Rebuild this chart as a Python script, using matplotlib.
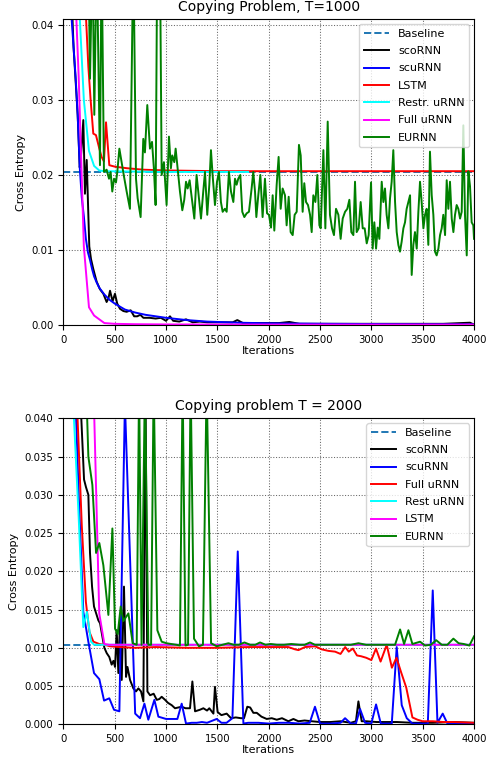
import matplotlib
matplotlib.use("Agg")
import matplotlib.pyplot as plt
from matplotlib.ticker import FormatStrFormatter

# ---------------- Top panel: Copying Problem, T=1000 ----------------
t1_baseline = 0.0204

t1_sco_x = [0, 50, 100, 140, 160, 172, 195, 211, 228, 253,
            270, 292, 325, 357, 390, 422, 440, 455, 480, 503,
            525, 552, 585, 617, 656, 690, 720, 750, 780, 840,
            900, 950, 1000, 1039, 1070, 1130, 1195, 1260, 1330, 1400,
            1470, 1560, 1650, 1695, 1750, 1900, 2100, 2201, 2300, 2600,
            3000, 3300, 3700, 3961, 4000]
t1_sco_y = [0.08, 0.055, 0.037, 0.028, 0.021, 0.0224, 0.0273, 0.0175, 0.022, 0.0105,
            0.0088, 0.0075, 0.0058, 0.0048, 0.0042, 0.0031, 0.0036, 0.0046, 0.0032, 0.0042,
            0.0029, 0.0022, 0.0019, 0.0018, 0.002, 0.0012, 0.0012, 0.0014, 0.001, 0.001,
            0.0009, 0.001, 0.0006, 0.0012, 0.0006, 0.0005, 0.0008, 0.0004, 0.0005, 0.0004,
            0.0004, 0.0004, 0.0004, 0.0007, 0.0003, 0.0003, 0.0003, 0.00045, 0.0002, 0.0002,
            0.0002, 0.0002, 0.0002, 0.00035, 0.0001]

t1_scu_x = [0, 50, 80, 100, 120, 140, 160, 180, 200, 220,
            240, 260, 280, 300, 325, 350, 400, 450, 500, 550,
            600, 700, 800, 900, 1000, 1200, 1400, 1700, 2000, 2600,
            3200, 4000]
t1_scu_y = [0.08, 0.055, 0.041, 0.037, 0.033, 0.028, 0.021, 0.017, 0.0145, 0.0115,
            0.0097, 0.0087, 0.0075, 0.0065, 0.0057, 0.005, 0.0041, 0.0034, 0.0029, 0.0025,
            0.0021, 0.0017, 0.0014, 0.0012, 0.001, 0.0007, 0.0005, 0.00035, 0.00027, 0.0002,
            0.00016, 0.00013]

t1_lstm_x = [0, 200, 221, 244, 266, 292, 318, 351, 373, 396,
             416, 448, 503, 617, 779, 1000, 1500, 2000, 4000]
t1_lstm_y = [0.1, 0.06, 0.041, 0.0344, 0.030, 0.0255, 0.0253, 0.0235, 0.0224, 0.0218,
             0.027, 0.0213, 0.0211, 0.0209, 0.0207, 0.0206, 0.0205, 0.0205, 0.0205]

t1_restr_x = [0, 160, 200, 250, 300, 350, 400, 1000, 1800]
t1_restr_y = [0.1, 0.041, 0.030, 0.0232, 0.0212, 0.0206, 0.0205, 0.0204, 0.0204]

t1_full_x = [0, 100, 150, 200, 250, 300, 350, 400, 500, 700, 1000, 2000, 4000]
t1_full_y = [0.1, 0.05, 0.033, 0.0105, 0.0024, 0.0013, 0.0008, 0.0003, 0.0002,
             0.00015, 0.00012, 0.0001, 0.0001]

t1_eu_x = [0, 200, 244, 260, 284, 302, 325, 357, 373, 396,
           422, 445, 461, 477, 494, 513, 526, 546, 570, 591,
           617, 649, 682, 708, 724, 753, 779, 795, 818, 844,
           864, 883, 899, 915, 941, 958, 980, 1006, 1029, 1048,
           1061, 1081, 1094, 1113, 1136, 1159, 1178, 1195, 1211, 1230,
           1250, 1276, 1298, 1321, 1341, 1363, 1380, 1402, 1422, 1438,
           1454, 1477, 1497, 1516, 1535, 1552, 1574, 1591, 1613, 1633,
           1656, 1672, 1688, 1704, 1724, 1743, 1763, 1786, 1808, 1834,
           1850, 1867, 1880, 1899, 1919, 1941, 1964, 1984, 2003, 2023,
           2039, 2055, 2078, 2097, 2117, 2136, 2159, 2175, 2195, 2214,
           2234, 2253, 2273, 2295, 2312, 2331, 2347, 2364, 2383, 2403,
           2419, 2435, 2455, 2474, 2494, 2507, 2533, 2552, 2575, 2597,
           2617, 2636, 2656, 2679, 2701, 2721, 2744, 2766, 2786, 2805,
           2825, 2841, 2857, 2877, 2896, 2916, 2935, 2955, 2974, 2997,
           3013, 3029, 3046, 3062, 3078, 3101, 3117, 3133, 3149, 3166,
           3182, 3198, 3214, 3231, 3247, 3263, 3279, 3295, 3312, 3328,
           3344, 3360, 3377, 3393, 3409, 3425, 3442, 3458, 3474, 3490,
           3507, 3523, 3539, 3555, 3571, 3588, 3604, 3620, 3636, 3653,
           3669, 3685, 3701, 3718, 3734, 3750, 3766, 3783, 3799, 3815,
           3831, 3847, 3864, 3880, 3896, 3912, 3929, 3945, 3961, 3977,
           3993, 4000]
t1_eu_y = [0.1, 0.08, 0.05, 0.0328, 0.05, 0.028, 0.05, 0.0213, 0.05, 0.0204,
           0.0207, 0.0195, 0.0204, 0.0178, 0.0195, 0.019, 0.0204, 0.0235, 0.0215, 0.0198,
           0.0178, 0.0155, 0.05, 0.0195, 0.0169, 0.0144, 0.0248, 0.023, 0.0293, 0.0235,
           0.0244, 0.0207, 0.016, 0.05, 0.05, 0.02, 0.0217, 0.016, 0.0251, 0.0209,
           0.0226, 0.0217, 0.0235, 0.0209, 0.0178, 0.0153, 0.0167, 0.0191, 0.0182, 0.0193,
           0.0171, 0.0142, 0.020, 0.0169, 0.0142, 0.0178, 0.0204, 0.0147, 0.0187, 0.0233,
           0.020, 0.016, 0.0191, 0.0204, 0.0164, 0.0151, 0.0155, 0.0151, 0.0204, 0.0178,
           0.0164, 0.0195, 0.0187, 0.0195, 0.020, 0.0151, 0.0144, 0.0149, 0.0151, 0.0182,
           0.0204, 0.0178, 0.0144, 0.0173, 0.020, 0.0144, 0.0195, 0.0149, 0.0147, 0.0130,
           0.0173, 0.0126, 0.0187, 0.0224, 0.0155, 0.0182, 0.0173, 0.0133, 0.0171, 0.0124,
           0.012, 0.0147, 0.0151, 0.024, 0.0226, 0.0151, 0.0189, 0.0164, 0.016, 0.0147,
           0.0124, 0.0173, 0.0164, 0.020, 0.0133, 0.0129, 0.0233, 0.0129, 0.0271, 0.0147,
           0.0129, 0.012, 0.0155, 0.0147, 0.0115, 0.0142, 0.0151, 0.0155, 0.0167, 0.0124,
           0.012, 0.0191, 0.0124, 0.0129, 0.0164, 0.0129, 0.0129, 0.0109, 0.012, 0.019,
           0.0102, 0.0137, 0.0102, 0.0130, 0.0115, 0.0191, 0.0164, 0.0182, 0.0147, 0.0129,
           0.0169, 0.0191, 0.0233, 0.0164, 0.0124, 0.0107, 0.0098, 0.0111, 0.0129, 0.0137,
           0.0155, 0.0164, 0.0173, 0.0067, 0.0107, 0.0124, 0.0102, 0.0151, 0.0191, 0.0164,
           0.0129, 0.0147, 0.0155, 0.0107, 0.0231, 0.0173, 0.0147, 0.0098, 0.0093, 0.0102,
           0.0120, 0.0129, 0.0147, 0.0120, 0.0193, 0.0155, 0.0191, 0.0142, 0.0124, 0.0147,
           0.016, 0.0155, 0.0142, 0.0151, 0.0266, 0.0147, 0.0093, 0.0205, 0.0185, 0.0137,
           0.0133, 0.0115]

# ---------------- Bottom panel: Copying problem T = 2000 ----------------
t2_baseline = 0.0104

t2_sco_x = [0, 150, 172, 202, 221, 244, 260, 280, 299, 320,
            341, 358, 384, 400, 423, 448, 471, 488, 504, 520,
            536, 552, 569, 591, 611, 625, 650, 682, 708, 731,
            757, 780, 800, 819, 845, 880, 910, 935, 958, 991,
            1020, 1056, 1088, 1120, 1153, 1190, 1234, 1257, 1283, 1330,
            1364, 1400, 1422, 1462, 1477, 1503, 1540, 1591, 1634, 1680,
            1730, 1760, 1792, 1820, 1851, 1884, 1930, 1981, 2030, 2079,
            2130, 2192, 2241, 2290, 2350, 2420, 2500, 2600, 2700, 2800,
            2850, 2874, 2906, 2950, 3050, 3150, 3250, 3400, 3600, 3800,
            4000]
t2_sco_y = [0.1, 0.06, 0.041, 0.032, 0.031, 0.030, 0.0224, 0.018, 0.0154, 0.0145,
            0.0136, 0.0132, 0.0112, 0.0100, 0.0093, 0.0088, 0.0078, 0.0083, 0.0075, 0.0123,
            0.0067, 0.0136, 0.0058, 0.018, 0.0062, 0.0075, 0.0058, 0.0047, 0.0043, 0.0047,
            0.0043, 0.0030, 0.045, 0.0043, 0.0038, 0.0040, 0.0032, 0.0033, 0.0036, 0.0032,
            0.0028, 0.0025, 0.0021, 0.0022, 0.0023, 0.0021, 0.0021, 0.0056, 0.0017, 0.0019,
            0.0021, 0.0018, 0.0021, 0.0014, 0.0049, 0.0016, 0.0012, 0.0014, 0.0008, 0.0009,
            0.0008, 0.0008, 0.0023, 0.0022, 0.0015, 0.0015, 0.0010, 0.0007, 0.0008, 0.0006,
            0.0008, 0.0004, 0.0007, 0.0004, 0.0005, 0.0004, 0.0003, 0.0003, 0.0004, 0.0002,
            0.0004, 0.0030, 0.0004, 0.0004, 0.0003, 0.0003, 0.0003, 0.0002, 0.0002, 0.0003,
            0.0002]

t2_scu_x = [0, 100, 150, 195, 244, 299, 351, 397, 448, 494,
            546, 600, 700, 747, 790, 828, 887, 926, 1001, 1050,
            1111, 1153, 1195, 1250, 1300, 1350, 1400, 1494, 1540, 1590,
            1647, 1699, 1754, 1800, 1900, 2000, 2100, 2200, 2300, 2400,
            2451, 2500, 2600, 2700, 2744, 2800, 2850, 2890, 2939, 3000,
            3046, 3092, 3150, 3199, 3247, 3296, 3345, 3400, 3500, 3550,
            3598, 3644, 3695, 3741, 3800, 3900, 4000]
t2_scu_y = [0.1, 0.05, 0.03, 0.0147, 0.0108, 0.0067, 0.0059, 0.0031, 0.0034, 0.0019,
            0.0017, 0.042, 0.0014, 0.0008, 0.0027, 0.0006, 0.0032, 0.0010, 0.0007, 0.0007,
            0.0007, 0.0027, 0.0001, 0.0002, 0.0002, 0.0003, 0.0002, 0.0007, 0.0002, 0.0002,
            0.0008, 0.0226, 0.0001, 0.0002, 0.0002, 0.0001, 0.0002, 0.0002, 0.0001, 0.0002,
            0.0023, 0.0001, 0.0001, 0.0002, 0.0008, 0.0001, 0.0001, 0.0020, 0.0002, 0.0001,
            0.0026, 0.0001, 0.0001, 0.0001, 0.0101, 0.0025, 0.0008, 0.0001, 0.0001, 0.0001,
            0.0175, 0.0002, 0.0014, 0.0001, 0.0001, 0.0001, 0.0001]

t2_full_x = [0, 100, 136, 180, 220, 254, 293, 350, 400, 455,
             550, 700, 900, 1200, 1500, 1800, 2000, 2100, 2192, 2257,
             2290, 2354, 2452, 2517, 2582, 2647, 2700, 2745, 2780, 2820,
             2860, 2900, 2950, 3000, 3045, 3090, 3150, 3200, 3245, 3290,
             3340, 3400, 3450, 3500, 3600, 3700, 3800, 4000]
t2_full_y = [0.1, 0.06, 0.041, 0.026, 0.016, 0.0121, 0.0108, 0.0105, 0.0104, 0.0102,
             0.0101, 0.0100, 0.0101, 0.0100, 0.0100, 0.0101, 0.0101, 0.0101, 0.0101, 0.0098,
             0.0097, 0.0101, 0.0102, 0.0098, 0.0096, 0.0095, 0.0092, 0.0101, 0.0095, 0.0099,
             0.0090, 0.0089, 0.0087, 0.0084, 0.0099, 0.0082, 0.0104, 0.0074, 0.0087, 0.0068,
             0.0048, 0.0009, 0.0006, 0.0004, 0.0004, 0.0003, 0.0003, 0.0002]

t2_rest_x = [0, 100, 150, 195, 230, 270, 300, 400, 1000, 4000]
t2_rest_y = [0.1, 0.041, 0.027, 0.0127, 0.0147, 0.0108, 0.0104, 0.0104, 0.0104, 0.0104]

t2_lstm_x = [0, 250, 300, 350, 400, 450, 1000, 4000]
t2_lstm_y = [0.1, 0.07, 0.041, 0.0145, 0.0105, 0.0104, 0.0104, 0.0104]

t2_eu_x = [0, 200, 221, 244, 283, 319, 351, 390, 439, 478,
           504, 530, 559, 585, 634, 676, 715, 738, 762, 795,
           828, 855, 880, 916, 958, 1006, 1050, 1100, 1136, 1162,
           1190, 1215, 1240, 1273, 1321, 1360, 1396, 1439, 1494, 1550,
           1608, 1660, 1710, 1764, 1820, 1870, 1916, 1970, 2020, 2080,
           2150, 2220, 2300, 2350, 2403, 2450, 2520, 2600, 2700, 2800,
           2874, 2950, 3050, 3150, 3231, 3280, 3319, 3361, 3400, 3475,
           3523, 3580, 3631, 3686, 3740, 3799, 3850, 3900, 3955, 4000]
t2_eu_y = [0.1, 0.06, 0.045, 0.035, 0.0313, 0.0224, 0.0237, 0.0208, 0.0143, 0.0256,
           0.0125, 0.0118, 0.0154, 0.0135, 0.0145, 0.0106, 0.0104, 0.045, 0.0104, 0.045,
           0.0104, 0.0104, 0.045, 0.0123, 0.0108, 0.0106, 0.0105, 0.0104, 0.0103, 0.045,
           0.0103, 0.0104, 0.045, 0.0112, 0.0102, 0.0104, 0.045, 0.0106, 0.0102, 0.0104,
           0.0106, 0.0104, 0.0104, 0.0107, 0.0104, 0.0104, 0.0107, 0.0104, 0.0105, 0.0104,
           0.0104, 0.0105, 0.0104, 0.0104, 0.0107, 0.0104, 0.0104, 0.0104, 0.0104, 0.0104,
           0.0106, 0.0104, 0.0104, 0.0104, 0.0104, 0.0124, 0.0105, 0.0123, 0.0105, 0.0108,
           0.0103, 0.0104, 0.0110, 0.0104, 0.0104, 0.0112, 0.0106, 0.0105, 0.0103, 0.0115]

x_ticks = [0, 500, 1000, 1500, 2000, 2500, 3000, 3500, 4000]

# ---------------- Drawing ----------------
plt.rcParams['font.family'] = ['DejaVu Sans']
fig = plt.figure(figsize=(4.93, 7.61), dpi=100)
ax1 = fig.add_axes([0.1284, 0.5725, 0.8331, 0.4021])
ax2 = fig.add_axes([0.1284, 0.0482, 0.8331, 0.4021])

LW = 1.4
BLUE_BASE = '#1f77b4'

ax1.plot([0, 4000], [t1_baseline, t1_baseline], '--', color=BLUE_BASE, lw=LW, label='Baseline')
ax1.plot(t1_sco_x, t1_sco_y, color='k', lw=LW, label='scoRNN')
ax1.plot(t1_scu_x, t1_scu_y, color='b', lw=LW, label='scuRNN')
ax1.plot(t1_lstm_x, t1_lstm_y, color='r', lw=LW, label='LSTM')
ax1.plot(t1_restr_x, t1_restr_y, color='#00ffff', lw=LW, label='Restr. uRNN')
ax1.plot(t1_full_x, t1_full_y, color='#ff00ff', lw=LW, label='Full uRNN')
ax1.plot(t1_eu_x, t1_eu_y, color='g', lw=LW, label='EURNN')
ax1.set_xlim(0, 4000)
ax1.set_ylim(0, 0.0407)
ax1.set_yticks([0, 0.01, 0.02, 0.03, 0.04])
ax1.yaxis.set_major_formatter(FormatStrFormatter('%.2f'))
ax1.set_title('Copying Problem, T=1000', fontsize=10)

ax2.plot([0, 4000], [t2_baseline, t2_baseline], '--', color=BLUE_BASE, lw=LW, label='Baseline')
ax2.plot(t2_sco_x, t2_sco_y, color='k', lw=LW, label='scoRNN')
ax2.plot(t2_scu_x, t2_scu_y, color='b', lw=LW, label='scuRNN')
ax2.plot(t2_full_x, t2_full_y, color='r', lw=LW, label='Full uRNN')
ax2.plot(t2_rest_x, t2_rest_y, color='#00ffff', lw=LW, label='Rest uRNN')
ax2.plot(t2_lstm_x, t2_lstm_y, color='#ff00ff', lw=LW, label='LSTM')
ax2.plot(t2_eu_x, t2_eu_y, color='g', lw=LW, label='EURNN')
ax2.set_xlim(0, 4000)
ax2.set_ylim(0, 0.04)
ax2.set_yticks([0, 0.005, 0.01, 0.015, 0.02, 0.025, 0.03, 0.035, 0.04])
ax2.yaxis.set_major_formatter(FormatStrFormatter('%.3f'))
ax2.set_title('Copying problem T = 2000', fontsize=10)

for ax in (ax1, ax2):
    ax.set_xticks(x_ticks)
    ax.tick_params(labelsize=7.3, length=3.5)
    ax.grid(True, linestyle=':', color='0.4', linewidth=0.75)
    ax.set_xlabel('Iterations', fontsize=8, labelpad=1)
    ax.set_ylabel('Cross Entropy', fontsize=8)
    ax.legend(loc='upper right', fontsize=8, handlelength=2.3, labelspacing=0.66,
              borderaxespad=0.45)

fig.savefig('out.png', dpi=100)
